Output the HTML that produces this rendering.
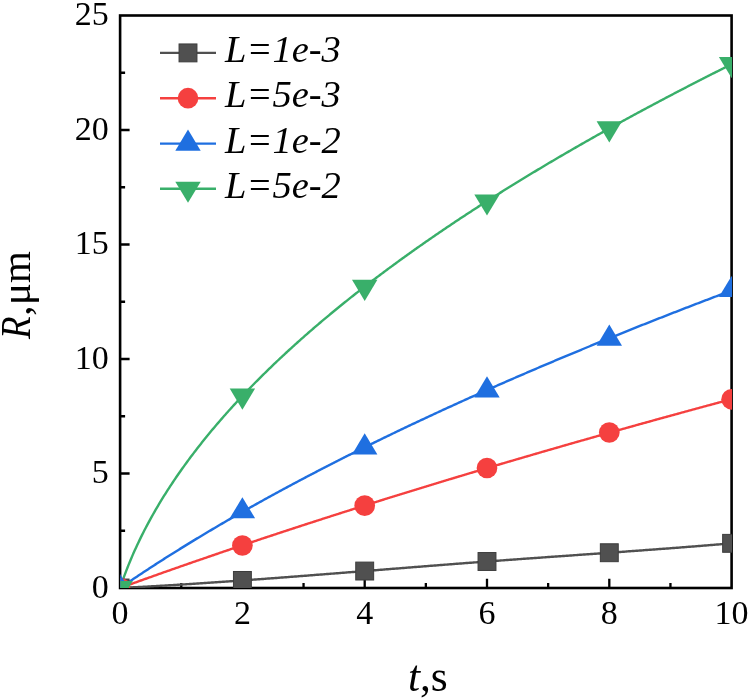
<!DOCTYPE html>
<html><head><meta charset="utf-8"><title>R vs t</title>
<style>
html,body{margin:0;padding:0;background:#fff;}
body{width:750px;height:699px;overflow:hidden;}
svg{display:block;filter:blur(0.45px);}
text{font-family:"Liberation Serif","Times New Roman",serif;fill:#000;}
</style></head><body>
<svg width="750" height="699" viewBox="0 0 750 699">
<defs><clipPath id="pa"><rect x="120.30" y="15.50" width="611.70" height="572.50"/></clipPath></defs>
<rect width="750" height="699" fill="#fff"/>

<rect x="120.10" y="15.50" width="611.50" height="572.50" fill="none" stroke="#000" stroke-width="2.6"/>
<path d="M181.25,588.00V583.00M242.40,588.00V578.70M303.55,588.00V583.00M364.70,588.00V578.70M425.85,588.00V583.00M487.00,588.00V578.70M548.15,588.00V583.00M609.30,588.00V578.70M670.45,588.00V583.00M120.10,530.75H125.10M120.10,473.50H129.60M120.10,416.25H125.10M120.10,359.00H129.60M120.10,301.75H125.10M120.10,244.50H129.60M120.10,187.25H125.10M120.10,130.00H129.60M120.10,72.75H125.10" stroke="#000" stroke-width="2.3" fill="none"/>
<text x="120.10" y="623.6" font-size="34" text-anchor="middle">0</text>
<text x="242.40" y="623.6" font-size="34" text-anchor="middle">2</text>
<text x="364.70" y="623.6" font-size="34" text-anchor="middle">4</text>
<text x="487.00" y="623.6" font-size="34" text-anchor="middle">6</text>
<text x="609.30" y="623.6" font-size="34" text-anchor="middle">8</text>
<text x="731.60" y="623.6" font-size="34" text-anchor="middle">10</text>
<text x="108.7" y="597.80" font-size="34" text-anchor="end">0</text>
<text x="108.7" y="483.30" font-size="34" text-anchor="end">5</text>
<text x="108.7" y="368.80" font-size="34" text-anchor="end">10</text>
<text x="108.7" y="254.30" font-size="34" text-anchor="end">15</text>
<text x="108.7" y="139.80" font-size="34" text-anchor="end">20</text>
<text x="108.7" y="25.30" font-size="34" text-anchor="end">25</text>
<text x="407.9" y="691.0" font-size="43.5"><tspan font-style="italic">t</tspan>,s</text>
<text transform="translate(30.0,339.0) rotate(-90) scale(0.87,1)" font-size="42.5" font-style="italic">R</text>
<text transform="translate(30.2,315.75) rotate(-90)" font-size="41">,<tspan dx="0.6">μm</tspan></text>
<g clip-path="url(#pa)" fill="none" stroke-width="2.4" stroke-linejoin="round">
<path d="M120.10,588.00 L121.32,587.94 L122.55,587.88 L123.77,587.82 L124.99,587.75 L126.21,587.69 L127.44,587.63 L128.66,587.57 L129.88,587.50 L131.11,587.44 L132.33,587.38 L133.55,587.31 L134.78,587.25 L136.00,587.18 L137.22,587.12 L138.44,587.05 L139.67,586.98 L140.89,586.92 L142.11,586.85 L143.34,586.78 L144.56,586.72 L145.78,586.65 L147.01,586.58 L148.23,586.51 L149.45,586.44 L150.67,586.38 L151.90,586.31 L153.12,586.24 L154.34,586.17 L155.57,586.10 L156.79,586.03 L158.01,585.96 L159.24,585.89 L160.46,585.81 L161.68,585.74 L162.90,585.67 L164.13,585.60 L165.35,585.53 L166.57,585.45 L167.80,585.38 L169.02,585.31 L170.24,585.23 L171.47,585.16 L172.69,585.08 L173.91,585.01 L175.13,584.94 L176.36,584.86 L177.58,584.79 L178.80,584.71 L180.03,584.63 L181.25,584.56 L182.47,584.48 L183.70,584.40 L184.92,584.33 L186.14,584.25 L187.37,584.17 L188.59,584.09 L189.81,584.02 L191.03,583.94 L192.26,583.86 L193.48,583.78 L194.70,583.70 L195.93,583.62 L197.15,583.54 L198.37,583.46 L199.59,583.38 L200.82,583.30 L202.04,583.22 L203.26,583.14 L204.49,583.06 L205.71,582.98 L206.93,582.90 L208.16,582.82 L209.38,582.74 L210.60,582.65 L211.82,582.57 L213.05,582.49 L214.27,582.41 L215.49,582.32 L216.72,582.24 L217.94,582.16 L219.16,582.07 L220.39,581.99 L221.61,581.90 L222.83,581.82 L224.06,581.74 L225.28,581.65 L226.50,581.57 L227.72,581.48 L228.95,581.39 L230.17,581.31 L231.39,581.22 L232.62,581.14 L233.84,581.05 L235.06,580.97 L236.29,580.88 L237.51,580.79 L238.73,580.70 L239.95,580.62 L241.18,580.53 L242.40,580.44 L243.62,580.36 L244.85,580.27 L246.07,580.18 L247.29,580.09 L248.52,580.00 L249.74,579.91 L250.96,579.83 L252.18,579.74 L253.41,579.65 L254.63,579.56 L255.85,579.47 L257.08,579.38 L258.30,579.29 L259.52,579.20 L260.75,579.11 L261.97,579.02 L263.19,578.93 L264.41,578.84 L265.64,578.75 L266.86,578.66 L268.08,578.57 L269.31,578.47 L270.53,578.38 L271.75,578.29 L272.98,578.20 L274.20,578.11 L275.42,578.02 L276.64,577.93 L277.87,577.83 L279.09,577.74 L280.31,577.65 L281.54,577.56 L282.76,577.46 L283.98,577.37 L285.21,577.28 L286.43,577.18 L287.65,577.09 L288.87,577.00 L290.10,576.90 L291.32,576.81 L292.54,576.72 L293.77,576.62 L294.99,576.53 L296.21,576.44 L297.43,576.34 L298.66,576.25 L299.88,576.15 L301.10,576.06 L302.33,575.97 L303.55,575.87 L304.77,575.78 L306.00,575.68 L307.22,575.59 L308.44,575.49 L309.66,575.40 L310.89,575.30 L312.11,575.21 L313.33,575.11 L314.56,575.02 L315.78,574.92 L317.00,574.82 L318.23,574.73 L319.45,574.63 L320.67,574.54 L321.89,574.44 L323.12,574.35 L324.34,574.25 L325.56,574.15 L326.79,574.06 L328.01,573.96 L329.23,573.86 L330.46,573.77 L331.68,573.67 L332.90,573.58 L334.12,573.48 L335.35,573.38 L336.57,573.29 L337.79,573.19 L339.02,573.09 L340.24,573.00 L341.46,572.90 L342.69,572.80 L343.91,572.71 L345.13,572.61 L346.36,572.51 L347.58,572.41 L348.80,572.32 L350.02,572.22 L351.25,572.12 L352.47,572.03 L353.69,571.93 L354.92,571.83 L356.14,571.74 L357.36,571.64 L358.58,571.54 L359.81,571.44 L361.03,571.35 L362.25,571.25 L363.48,571.15 L364.70,571.05 L365.92,570.96 L367.15,570.86 L368.37,570.76 L369.59,570.66 L370.81,570.57 L372.04,570.47 L373.26,570.37 L374.48,570.27 L375.71,570.18 L376.93,570.08 L378.15,569.98 L379.38,569.89 L380.60,569.79 L381.82,569.69 L383.05,569.59 L384.27,569.50 L385.49,569.40 L386.71,569.30 L387.94,569.20 L389.16,569.11 L390.38,569.01 L391.61,568.91 L392.83,568.81 L394.05,568.72 L395.27,568.62 L396.50,568.52 L397.72,568.43 L398.94,568.33 L400.17,568.23 L401.39,568.13 L402.61,568.04 L403.84,567.94 L405.06,567.84 L406.28,567.75 L407.50,567.65 L408.73,567.55 L409.95,567.46 L411.17,567.36 L412.40,567.26 L413.62,567.17 L414.84,567.07 L416.07,566.97 L417.29,566.88 L418.51,566.78 L419.74,566.68 L420.96,566.59 L422.18,566.49 L423.40,566.39 L424.63,566.30 L425.85,566.20 L427.07,566.11 L428.30,566.01 L429.52,565.91 L430.74,565.82 L431.96,565.72 L433.19,565.63 L434.41,565.53 L435.63,565.44 L436.86,565.34 L438.08,565.24 L439.30,565.15 L440.53,565.05 L441.75,564.96 L442.97,564.86 L444.20,564.77 L445.42,564.67 L446.64,564.58 L447.86,564.48 L449.09,564.39 L450.31,564.29 L451.53,564.20 L452.76,564.11 L453.98,564.01 L455.20,563.92 L456.42,563.82 L457.65,563.73 L458.87,563.63 L460.09,563.54 L461.32,563.45 L462.54,563.35 L463.76,563.26 L464.99,563.17 L466.21,563.07 L467.43,562.98 L468.65,562.89 L469.88,562.79 L471.10,562.70 L472.32,562.61 L473.55,562.52 L474.77,562.42 L475.99,562.33 L477.22,562.24 L478.44,562.15 L479.66,562.05 L480.88,561.96 L482.11,561.87 L483.33,561.78 L484.55,561.69 L485.78,561.60 L487.00,561.50 L488.22,561.41 L489.45,561.32 L490.67,561.23 L491.89,561.14 L493.12,561.05 L494.34,560.96 L495.56,560.87 L496.78,560.78 L498.01,560.69 L499.23,560.60 L500.45,560.51 L501.68,560.42 L502.90,560.33 L504.12,560.24 L505.35,560.15 L506.57,560.06 L507.79,559.97 L509.01,559.88 L510.24,559.79 L511.46,559.71 L512.68,559.62 L513.91,559.53 L515.13,559.44 L516.35,559.35 L517.58,559.26 L518.80,559.17 L520.02,559.09 L521.24,559.00 L522.47,558.91 L523.69,558.82 L524.91,558.73 L526.14,558.65 L527.36,558.56 L528.58,558.47 L529.80,558.38 L531.03,558.29 L532.25,558.21 L533.47,558.12 L534.70,558.03 L535.92,557.94 L537.14,557.86 L538.37,557.77 L539.59,557.68 L540.81,557.60 L542.04,557.51 L543.26,557.42 L544.48,557.33 L545.70,557.25 L546.93,557.16 L548.15,557.07 L549.37,556.99 L550.60,556.90 L551.82,556.81 L553.04,556.73 L554.26,556.64 L555.49,556.55 L556.71,556.47 L557.93,556.38 L559.16,556.29 L560.38,556.21 L561.60,556.12 L562.83,556.03 L564.05,555.95 L565.27,555.86 L566.50,555.77 L567.72,555.69 L568.94,555.60 L570.16,555.51 L571.39,555.43 L572.61,555.34 L573.83,555.25 L575.06,555.17 L576.28,555.08 L577.50,554.99 L578.73,554.91 L579.95,554.82 L581.17,554.73 L582.39,554.65 L583.62,554.56 L584.84,554.47 L586.06,554.39 L587.29,554.30 L588.51,554.21 L589.73,554.13 L590.95,554.04 L592.18,553.95 L593.40,553.87 L594.62,553.78 L595.85,553.69 L597.07,553.61 L598.29,553.52 L599.52,553.43 L600.74,553.35 L601.96,553.26 L603.19,553.17 L604.41,553.08 L605.63,553.00 L606.85,552.91 L608.08,552.82 L609.30,552.73 L610.52,552.65 L611.75,552.56 L612.97,552.47 L614.19,552.38 L615.41,552.30 L616.64,552.21 L617.86,552.12 L619.08,552.03 L620.31,551.94 L621.53,551.86 L622.75,551.77 L623.98,551.68 L625.20,551.59 L626.42,551.50 L627.65,551.41 L628.87,551.32 L630.09,551.24 L631.31,551.15 L632.54,551.06 L633.76,550.97 L634.98,550.88 L636.21,550.79 L637.43,550.70 L638.65,550.61 L639.88,550.52 L641.10,550.43 L642.32,550.34 L643.54,550.25 L644.77,550.16 L645.99,550.07 L647.21,549.98 L648.44,549.89 L649.66,549.80 L650.88,549.71 L652.10,549.62 L653.33,549.53 L654.55,549.44 L655.77,549.35 L657.00,549.25 L658.22,549.16 L659.44,549.07 L660.67,548.98 L661.89,548.89 L663.11,548.80 L664.34,548.70 L665.56,548.61 L666.78,548.52 L668.00,548.43 L669.23,548.33 L670.45,548.24 L671.67,548.15 L672.90,548.05 L674.12,547.96 L675.34,547.87 L676.56,547.77 L677.79,547.68 L679.01,547.58 L680.23,547.49 L681.46,547.40 L682.68,547.30 L683.90,547.21 L685.13,547.11 L686.35,547.02 L687.57,546.92 L688.79,546.82 L690.02,546.73 L691.24,546.63 L692.46,546.54 L693.69,546.44 L694.91,546.34 L696.13,546.25 L697.36,546.15 L698.58,546.05 L699.80,545.96 L701.02,545.86 L702.25,545.76 L703.47,545.66 L704.69,545.56 L705.92,545.47 L707.14,545.37 L708.36,545.27 L709.59,545.17 L710.81,545.07 L712.03,544.97 L713.25,544.87 L714.48,544.77 L715.70,544.67 L716.92,544.57 L718.15,544.47 L719.37,544.37 L720.59,544.27 L721.82,544.17 L723.04,544.06 L724.26,543.96 L725.49,543.86 L726.71,543.76 L727.93,543.65 L729.15,543.55 L730.38,543.45 L731.60,543.35" stroke="#505050"/>
<path d="M120.10,588.00 L121.32,587.56 L122.55,587.11 L123.77,586.67 L124.99,586.23 L126.21,585.78 L127.44,585.34 L128.66,584.90 L129.88,584.46 L131.11,584.02 L132.33,583.58 L133.55,583.14 L134.78,582.70 L136.00,582.26 L137.22,581.82 L138.44,581.38 L139.67,580.94 L140.89,580.50 L142.11,580.06 L143.34,579.63 L144.56,579.19 L145.78,578.75 L147.01,578.31 L148.23,577.88 L149.45,577.44 L150.67,577.01 L151.90,576.57 L153.12,576.14 L154.34,575.70 L155.57,575.27 L156.79,574.84 L158.01,574.40 L159.24,573.97 L160.46,573.54 L161.68,573.10 L162.90,572.67 L164.13,572.24 L165.35,571.81 L166.57,571.38 L167.80,570.95 L169.02,570.52 L170.24,570.09 L171.47,569.66 L172.69,569.23 L173.91,568.80 L175.13,568.37 L176.36,567.94 L177.58,567.51 L178.80,567.09 L180.03,566.66 L181.25,566.23 L182.47,565.80 L183.70,565.38 L184.92,564.95 L186.14,564.53 L187.37,564.10 L188.59,563.68 L189.81,563.25 L191.03,562.83 L192.26,562.40 L193.48,561.98 L194.70,561.55 L195.93,561.13 L197.15,560.71 L198.37,560.29 L199.59,559.86 L200.82,559.44 L202.04,559.02 L203.26,558.60 L204.49,558.18 L205.71,557.76 L206.93,557.34 L208.16,556.92 L209.38,556.50 L210.60,556.08 L211.82,555.66 L213.05,555.24 L214.27,554.82 L215.49,554.40 L216.72,553.99 L217.94,553.57 L219.16,553.15 L220.39,552.73 L221.61,552.32 L222.83,551.90 L224.06,551.48 L225.28,551.07 L226.50,550.65 L227.72,550.24 L228.95,549.82 L230.17,549.41 L231.39,548.99 L232.62,548.58 L233.84,548.17 L235.06,547.75 L236.29,547.34 L237.51,546.93 L238.73,546.51 L239.95,546.10 L241.18,545.69 L242.40,545.28 L243.62,544.87 L244.85,544.46 L246.07,544.05 L247.29,543.64 L248.52,543.23 L249.74,542.82 L250.96,542.41 L252.18,542.00 L253.41,541.59 L254.63,541.18 L255.85,540.77 L257.08,540.36 L258.30,539.95 L259.52,539.55 L260.75,539.14 L261.97,538.73 L263.19,538.33 L264.41,537.92 L265.64,537.51 L266.86,537.11 L268.08,536.70 L269.31,536.30 L270.53,535.89 L271.75,535.49 L272.98,535.08 L274.20,534.68 L275.42,534.27 L276.64,533.87 L277.87,533.47 L279.09,533.06 L280.31,532.66 L281.54,532.26 L282.76,531.86 L283.98,531.45 L285.21,531.05 L286.43,530.65 L287.65,530.25 L288.87,529.85 L290.10,529.45 L291.32,529.05 L292.54,528.65 L293.77,528.25 L294.99,527.85 L296.21,527.45 L297.43,527.05 L298.66,526.65 L299.88,526.25 L301.10,525.85 L302.33,525.46 L303.55,525.06 L304.77,524.66 L306.00,524.26 L307.22,523.87 L308.44,523.47 L309.66,523.07 L310.89,522.68 L312.11,522.28 L313.33,521.89 L314.56,521.49 L315.78,521.09 L317.00,520.70 L318.23,520.31 L319.45,519.91 L320.67,519.52 L321.89,519.12 L323.12,518.73 L324.34,518.34 L325.56,517.94 L326.79,517.55 L328.01,517.16 L329.23,516.77 L330.46,516.37 L331.68,515.98 L332.90,515.59 L334.12,515.20 L335.35,514.81 L336.57,514.42 L337.79,514.03 L339.02,513.64 L340.24,513.25 L341.46,512.86 L342.69,512.47 L343.91,512.08 L345.13,511.69 L346.36,511.30 L347.58,510.91 L348.80,510.52 L350.02,510.13 L351.25,509.75 L352.47,509.36 L353.69,508.97 L354.92,508.58 L356.14,508.20 L357.36,507.81 L358.58,507.42 L359.81,507.04 L361.03,506.65 L362.25,506.27 L363.48,505.88 L364.70,505.50 L365.92,505.11 L367.15,504.73 L368.37,504.34 L369.59,503.96 L370.81,503.57 L372.04,503.19 L373.26,502.81 L374.48,502.42 L375.71,502.04 L376.93,501.66 L378.15,501.27 L379.38,500.89 L380.60,500.51 L381.82,500.13 L383.05,499.75 L384.27,499.37 L385.49,498.98 L386.71,498.60 L387.94,498.22 L389.16,497.84 L390.38,497.46 L391.61,497.08 L392.83,496.70 L394.05,496.32 L395.27,495.94 L396.50,495.56 L397.72,495.19 L398.94,494.81 L400.17,494.43 L401.39,494.05 L402.61,493.67 L403.84,493.29 L405.06,492.92 L406.28,492.54 L407.50,492.16 L408.73,491.79 L409.95,491.41 L411.17,491.03 L412.40,490.66 L413.62,490.28 L414.84,489.90 L416.07,489.53 L417.29,489.15 L418.51,488.78 L419.74,488.40 L420.96,488.03 L422.18,487.65 L423.40,487.28 L424.63,486.91 L425.85,486.53 L427.07,486.16 L428.30,485.79 L429.52,485.41 L430.74,485.04 L431.96,484.67 L433.19,484.30 L434.41,483.92 L435.63,483.55 L436.86,483.18 L438.08,482.81 L439.30,482.44 L440.53,482.07 L441.75,481.69 L442.97,481.32 L444.20,480.95 L445.42,480.58 L446.64,480.21 L447.86,479.84 L449.09,479.47 L450.31,479.10 L451.53,478.73 L452.76,478.37 L453.98,478.00 L455.20,477.63 L456.42,477.26 L457.65,476.89 L458.87,476.52 L460.09,476.16 L461.32,475.79 L462.54,475.42 L463.76,475.05 L464.99,474.69 L466.21,474.32 L467.43,473.95 L468.65,473.59 L469.88,473.22 L471.10,472.86 L472.32,472.49 L473.55,472.12 L474.77,471.76 L475.99,471.39 L477.22,471.03 L478.44,470.66 L479.66,470.30 L480.88,469.94 L482.11,469.57 L483.33,469.21 L484.55,468.84 L485.78,468.48 L487.00,468.12 L488.22,467.75 L489.45,467.39 L490.67,467.03 L491.89,466.67 L493.12,466.30 L494.34,465.94 L495.56,465.58 L496.78,465.22 L498.01,464.86 L499.23,464.50 L500.45,464.13 L501.68,463.77 L502.90,463.41 L504.12,463.05 L505.35,462.69 L506.57,462.33 L507.79,461.97 L509.01,461.61 L510.24,461.25 L511.46,460.89 L512.68,460.53 L513.91,460.18 L515.13,459.82 L516.35,459.46 L517.58,459.10 L518.80,458.74 L520.02,458.38 L521.24,458.03 L522.47,457.67 L523.69,457.31 L524.91,456.95 L526.14,456.60 L527.36,456.24 L528.58,455.88 L529.80,455.53 L531.03,455.17 L532.25,454.81 L533.47,454.46 L534.70,454.10 L535.92,453.75 L537.14,453.39 L538.37,453.04 L539.59,452.68 L540.81,452.33 L542.04,451.97 L543.26,451.62 L544.48,451.26 L545.70,450.91 L546.93,450.56 L548.15,450.20 L549.37,449.85 L550.60,449.50 L551.82,449.14 L553.04,448.79 L554.26,448.44 L555.49,448.09 L556.71,447.73 L557.93,447.38 L559.16,447.03 L560.38,446.68 L561.60,446.33 L562.83,445.97 L564.05,445.62 L565.27,445.27 L566.50,444.92 L567.72,444.57 L568.94,444.22 L570.16,443.87 L571.39,443.52 L572.61,443.17 L573.83,442.82 L575.06,442.47 L576.28,442.12 L577.50,441.77 L578.73,441.42 L579.95,441.07 L581.17,440.72 L582.39,440.38 L583.62,440.03 L584.84,439.68 L586.06,439.33 L587.29,438.98 L588.51,438.64 L589.73,438.29 L590.95,437.94 L592.18,437.59 L593.40,437.25 L594.62,436.90 L595.85,436.55 L597.07,436.21 L598.29,435.86 L599.52,435.52 L600.74,435.17 L601.96,434.82 L603.19,434.48 L604.41,434.13 L605.63,433.79 L606.85,433.44 L608.08,433.10 L609.30,432.75 L610.52,432.41 L611.75,432.06 L612.97,431.72 L614.19,431.38 L615.41,431.03 L616.64,430.69 L617.86,430.34 L619.08,430.00 L620.31,429.66 L621.53,429.32 L622.75,428.97 L623.98,428.63 L625.20,428.29 L626.42,427.95 L627.65,427.60 L628.87,427.26 L630.09,426.92 L631.31,426.58 L632.54,426.24 L633.76,425.89 L634.98,425.55 L636.21,425.21 L637.43,424.87 L638.65,424.53 L639.88,424.19 L641.10,423.85 L642.32,423.51 L643.54,423.17 L644.77,422.83 L645.99,422.49 L647.21,422.15 L648.44,421.81 L649.66,421.47 L650.88,421.13 L652.10,420.79 L653.33,420.46 L654.55,420.12 L655.77,419.78 L657.00,419.44 L658.22,419.10 L659.44,418.77 L660.67,418.43 L661.89,418.09 L663.11,417.75 L664.34,417.42 L665.56,417.08 L666.78,416.74 L668.00,416.40 L669.23,416.07 L670.45,415.73 L671.67,415.40 L672.90,415.06 L674.12,414.72 L675.34,414.39 L676.56,414.05 L677.79,413.72 L679.01,413.38 L680.23,413.05 L681.46,412.71 L682.68,412.38 L683.90,412.04 L685.13,411.71 L686.35,411.37 L687.57,411.04 L688.79,410.70 L690.02,410.37 L691.24,410.04 L692.46,409.70 L693.69,409.37 L694.91,409.04 L696.13,408.70 L697.36,408.37 L698.58,408.04 L699.80,407.70 L701.02,407.37 L702.25,407.04 L703.47,406.71 L704.69,406.38 L705.92,406.04 L707.14,405.71 L708.36,405.38 L709.59,405.05 L710.81,404.72 L712.03,404.39 L713.25,404.06 L714.48,403.72 L715.70,403.39 L716.92,403.06 L718.15,402.73 L719.37,402.40 L720.59,402.07 L721.82,401.74 L723.04,401.41 L724.26,401.08 L725.49,400.75 L726.71,400.43 L727.93,400.10 L729.15,399.77 L730.38,399.44 L731.60,399.11" stroke="#f5403f"/>
<path d="M120.10,588.00 L121.32,587.16 L122.55,586.32 L123.77,585.48 L124.99,584.65 L126.21,583.82 L127.44,582.98 L128.66,582.16 L129.88,581.33 L131.11,580.50 L132.33,579.68 L133.55,578.86 L134.78,578.04 L136.00,577.22 L137.22,576.40 L138.44,575.59 L139.67,574.78 L140.89,573.97 L142.11,573.16 L143.34,572.35 L144.56,571.54 L145.78,570.74 L147.01,569.94 L148.23,569.14 L149.45,568.34 L150.67,567.54 L151.90,566.74 L153.12,565.95 L154.34,565.16 L155.57,564.37 L156.79,563.58 L158.01,562.79 L159.24,562.01 L160.46,561.22 L161.68,560.44 L162.90,559.66 L164.13,558.88 L165.35,558.10 L166.57,557.33 L167.80,556.55 L169.02,555.78 L170.24,555.01 L171.47,554.24 L172.69,553.47 L173.91,552.70 L175.13,551.94 L176.36,551.17 L177.58,550.41 L178.80,549.65 L180.03,548.89 L181.25,548.13 L182.47,547.37 L183.70,546.62 L184.92,545.86 L186.14,545.11 L187.37,544.36 L188.59,543.61 L189.81,542.86 L191.03,542.11 L192.26,541.37 L193.48,540.62 L194.70,539.88 L195.93,539.14 L197.15,538.40 L198.37,537.66 L199.59,536.92 L200.82,536.19 L202.04,535.45 L203.26,534.72 L204.49,533.99 L205.71,533.26 L206.93,532.53 L208.16,531.80 L209.38,531.07 L210.60,530.35 L211.82,529.62 L213.05,528.90 L214.27,528.18 L215.49,527.45 L216.72,526.73 L217.94,526.02 L219.16,525.30 L220.39,524.58 L221.61,523.87 L222.83,523.16 L224.06,522.44 L225.28,521.73 L226.50,521.02 L227.72,520.31 L228.95,519.61 L230.17,518.90 L231.39,518.19 L232.62,517.49 L233.84,516.79 L235.06,516.09 L236.29,515.38 L237.51,514.69 L238.73,513.99 L239.95,513.29 L241.18,512.59 L242.40,511.90 L243.62,511.21 L244.85,510.51 L246.07,509.82 L247.29,509.13 L248.52,508.44 L249.74,507.75 L250.96,507.06 L252.18,506.38 L253.41,505.69 L254.63,505.01 L255.85,504.33 L257.08,503.64 L258.30,502.96 L259.52,502.28 L260.75,501.60 L261.97,500.93 L263.19,500.25 L264.41,499.57 L265.64,498.90 L266.86,498.23 L268.08,497.55 L269.31,496.88 L270.53,496.21 L271.75,495.54 L272.98,494.87 L274.20,494.20 L275.42,493.54 L276.64,492.87 L277.87,492.21 L279.09,491.54 L280.31,490.88 L281.54,490.22 L282.76,489.56 L283.98,488.90 L285.21,488.24 L286.43,487.58 L287.65,486.92 L288.87,486.27 L290.10,485.61 L291.32,484.96 L292.54,484.30 L293.77,483.65 L294.99,483.00 L296.21,482.35 L297.43,481.70 L298.66,481.05 L299.88,480.40 L301.10,479.75 L302.33,479.11 L303.55,478.46 L304.77,477.82 L306.00,477.18 L307.22,476.53 L308.44,475.89 L309.66,475.25 L310.89,474.61 L312.11,473.97 L313.33,473.33 L314.56,472.69 L315.78,472.06 L317.00,471.42 L318.23,470.79 L319.45,470.15 L320.67,469.52 L321.89,468.89 L323.12,468.26 L324.34,467.63 L325.56,467.00 L326.79,466.37 L328.01,465.74 L329.23,465.11 L330.46,464.48 L331.68,463.86 L332.90,463.23 L334.12,462.61 L335.35,461.99 L336.57,461.36 L337.79,460.74 L339.02,460.12 L340.24,459.50 L341.46,458.88 L342.69,458.26 L343.91,457.65 L345.13,457.03 L346.36,456.41 L347.58,455.80 L348.80,455.18 L350.02,454.57 L351.25,453.96 L352.47,453.34 L353.69,452.73 L354.92,452.12 L356.14,451.51 L357.36,450.90 L358.58,450.29 L359.81,449.68 L361.03,449.08 L362.25,448.47 L363.48,447.87 L364.70,447.26 L365.92,446.66 L367.15,446.05 L368.37,445.45 L369.59,444.85 L370.81,444.25 L372.04,443.65 L373.26,443.05 L374.48,442.45 L375.71,441.85 L376.93,441.25 L378.15,440.65 L379.38,440.06 L380.60,439.46 L381.82,438.87 L383.05,438.27 L384.27,437.68 L385.49,437.09 L386.71,436.49 L387.94,435.90 L389.16,435.31 L390.38,434.72 L391.61,434.13 L392.83,433.54 L394.05,432.96 L395.27,432.37 L396.50,431.78 L397.72,431.20 L398.94,430.61 L400.17,430.02 L401.39,429.44 L402.61,428.86 L403.84,428.27 L405.06,427.69 L406.28,427.11 L407.50,426.53 L408.73,425.95 L409.95,425.37 L411.17,424.79 L412.40,424.21 L413.62,423.64 L414.84,423.06 L416.07,422.48 L417.29,421.91 L418.51,421.33 L419.74,420.76 L420.96,420.18 L422.18,419.61 L423.40,419.04 L424.63,418.47 L425.85,417.89 L427.07,417.32 L428.30,416.75 L429.52,416.18 L430.74,415.62 L431.96,415.05 L433.19,414.48 L434.41,413.91 L435.63,413.35 L436.86,412.78 L438.08,412.22 L439.30,411.65 L440.53,411.09 L441.75,410.52 L442.97,409.96 L444.20,409.40 L445.42,408.84 L446.64,408.28 L447.86,407.71 L449.09,407.15 L450.31,406.60 L451.53,406.04 L452.76,405.48 L453.98,404.92 L455.20,404.36 L456.42,403.81 L457.65,403.25 L458.87,402.70 L460.09,402.14 L461.32,401.59 L462.54,401.03 L463.76,400.48 L464.99,399.93 L466.21,399.38 L467.43,398.82 L468.65,398.27 L469.88,397.72 L471.10,397.17 L472.32,396.62 L473.55,396.08 L474.77,395.53 L475.99,394.98 L477.22,394.43 L478.44,393.89 L479.66,393.34 L480.88,392.80 L482.11,392.25 L483.33,391.71 L484.55,391.16 L485.78,390.62 L487.00,390.08 L488.22,389.53 L489.45,388.99 L490.67,388.45 L491.89,387.91 L493.12,387.37 L494.34,386.83 L495.56,386.29 L496.78,385.75 L498.01,385.22 L499.23,384.68 L500.45,384.14 L501.68,383.60 L502.90,383.07 L504.12,382.53 L505.35,382.00 L506.57,381.46 L507.79,380.93 L509.01,380.40 L510.24,379.86 L511.46,379.33 L512.68,378.80 L513.91,378.27 L515.13,377.74 L516.35,377.21 L517.58,376.68 L518.80,376.15 L520.02,375.62 L521.24,375.09 L522.47,374.56 L523.69,374.03 L524.91,373.51 L526.14,372.98 L527.36,372.45 L528.58,371.93 L529.80,371.40 L531.03,370.88 L532.25,370.35 L533.47,369.83 L534.70,369.31 L535.92,368.78 L537.14,368.26 L538.37,367.74 L539.59,367.22 L540.81,366.70 L542.04,366.18 L543.26,365.66 L544.48,365.14 L545.70,364.62 L546.93,364.10 L548.15,363.58 L549.37,363.07 L550.60,362.55 L551.82,362.03 L553.04,361.52 L554.26,361.00 L555.49,360.48 L556.71,359.97 L557.93,359.46 L559.16,358.94 L560.38,358.43 L561.60,357.92 L562.83,357.40 L564.05,356.89 L565.27,356.38 L566.50,355.87 L567.72,355.36 L568.94,354.85 L570.16,354.34 L571.39,353.83 L572.61,353.32 L573.83,352.81 L575.06,352.30 L576.28,351.79 L577.50,351.29 L578.73,350.78 L579.95,350.27 L581.17,349.77 L582.39,349.26 L583.62,348.76 L584.84,348.25 L586.06,347.75 L587.29,347.24 L588.51,346.74 L589.73,346.24 L590.95,345.73 L592.18,345.23 L593.40,344.73 L594.62,344.23 L595.85,343.73 L597.07,343.23 L598.29,342.73 L599.52,342.23 L600.74,341.73 L601.96,341.23 L603.19,340.73 L604.41,340.23 L605.63,339.73 L606.85,339.24 L608.08,338.74 L609.30,338.24 L610.52,337.75 L611.75,337.25 L612.97,336.76 L614.19,336.26 L615.41,335.77 L616.64,335.27 L617.86,334.78 L619.08,334.29 L620.31,333.79 L621.53,333.30 L622.75,332.81 L623.98,332.32 L625.20,331.83 L626.42,331.33 L627.65,330.84 L628.87,330.35 L630.09,329.86 L631.31,329.37 L632.54,328.89 L633.76,328.40 L634.98,327.91 L636.21,327.42 L637.43,326.93 L638.65,326.45 L639.88,325.96 L641.10,325.47 L642.32,324.99 L643.54,324.50 L644.77,324.02 L645.99,323.53 L647.21,323.05 L648.44,322.56 L649.66,322.08 L650.88,321.60 L652.10,321.11 L653.33,320.63 L654.55,320.15 L655.77,319.67 L657.00,319.19 L658.22,318.71 L659.44,318.23 L660.67,317.75 L661.89,317.27 L663.11,316.79 L664.34,316.31 L665.56,315.83 L666.78,315.35 L668.00,314.87 L669.23,314.39 L670.45,313.92 L671.67,313.44 L672.90,312.96 L674.12,312.49 L675.34,312.01 L676.56,311.53 L677.79,311.06 L679.01,310.58 L680.23,310.11 L681.46,309.64 L682.68,309.16 L683.90,308.69 L685.13,308.22 L686.35,307.74 L687.57,307.27 L688.79,306.80 L690.02,306.33 L691.24,305.86 L692.46,305.38 L693.69,304.91 L694.91,304.44 L696.13,303.97 L697.36,303.50 L698.58,303.03 L699.80,302.57 L701.02,302.10 L702.25,301.63 L703.47,301.16 L704.69,300.69 L705.92,300.23 L707.14,299.76 L708.36,299.29 L709.59,298.83 L710.81,298.36 L712.03,297.89 L713.25,297.43 L714.48,296.96 L715.70,296.50 L716.92,296.04 L718.15,295.57 L719.37,295.11 L720.59,294.64 L721.82,294.18 L723.04,293.72 L724.26,293.26 L725.49,292.80 L726.71,292.33 L727.93,291.87 L729.15,291.41 L730.38,290.95 L731.60,290.49" stroke="#1f6fe0"/>
<path d="M120.10,588.00 L121.32,584.35 L122.55,580.83 L123.77,577.41 L124.99,574.10 L126.21,570.87 L127.44,567.73 L128.66,564.67 L129.88,561.68 L131.11,558.75 L132.33,555.89 L133.55,553.09 L134.78,550.35 L136.00,547.66 L137.22,545.02 L138.44,542.42 L139.67,539.87 L140.89,537.36 L142.11,534.89 L143.34,532.46 L144.56,530.07 L145.78,527.71 L147.01,525.39 L148.23,523.10 L149.45,520.84 L150.67,518.60 L151.90,516.40 L153.12,514.23 L154.34,512.08 L155.57,509.95 L156.79,507.85 L158.01,505.78 L159.24,503.73 L160.46,501.70 L161.68,499.69 L162.90,497.70 L164.13,495.73 L165.35,493.78 L166.57,491.86 L167.80,489.94 L169.02,488.05 L170.24,486.18 L171.47,484.32 L172.69,482.48 L173.91,480.65 L175.13,478.84 L176.36,477.05 L177.58,475.27 L178.80,473.51 L180.03,471.76 L181.25,470.02 L182.47,468.30 L183.70,466.59 L184.92,464.89 L186.14,463.21 L187.37,461.53 L188.59,459.87 L189.81,458.23 L191.03,456.59 L192.26,454.96 L193.48,453.35 L194.70,451.75 L195.93,450.15 L197.15,448.57 L198.37,447.00 L199.59,445.44 L200.82,443.89 L202.04,442.35 L203.26,440.81 L204.49,439.29 L205.71,437.78 L206.93,436.27 L208.16,434.77 L209.38,433.29 L210.60,431.81 L211.82,430.34 L213.05,428.88 L214.27,427.42 L215.49,425.97 L216.72,424.54 L217.94,423.11 L219.16,421.68 L220.39,420.27 L221.61,418.86 L222.83,417.46 L224.06,416.06 L225.28,414.68 L226.50,413.30 L227.72,411.92 L228.95,410.56 L230.17,409.20 L231.39,407.84 L232.62,406.50 L233.84,405.16 L235.06,403.82 L236.29,402.50 L237.51,401.17 L238.73,399.86 L239.95,398.55 L241.18,397.24 L242.40,395.94 L243.62,394.65 L244.85,393.36 L246.07,392.08 L247.29,390.81 L248.52,389.54 L249.74,388.27 L250.96,387.01 L252.18,385.76 L253.41,384.51 L254.63,383.26 L255.85,382.02 L257.08,380.79 L258.30,379.56 L259.52,378.33 L260.75,377.11 L261.97,375.90 L263.19,374.69 L264.41,373.48 L265.64,372.28 L266.86,371.08 L268.08,369.89 L269.31,368.70 L270.53,367.52 L271.75,366.34 L272.98,365.16 L274.20,363.99 L275.42,362.82 L276.64,361.66 L277.87,360.50 L279.09,359.35 L280.31,358.20 L281.54,357.05 L282.76,355.91 L283.98,354.77 L285.21,353.63 L286.43,352.50 L287.65,351.38 L288.87,350.25 L290.10,349.13 L291.32,348.02 L292.54,346.90 L293.77,345.79 L294.99,344.69 L296.21,343.59 L297.43,342.49 L298.66,341.39 L299.88,340.30 L301.10,339.21 L302.33,338.13 L303.55,337.05 L304.77,335.97 L306.00,334.89 L307.22,333.82 L308.44,332.75 L309.66,331.69 L310.89,330.62 L312.11,329.57 L313.33,328.51 L314.56,327.46 L315.78,326.41 L317.00,325.36 L318.23,324.32 L319.45,323.27 L320.67,322.24 L321.89,321.20 L323.12,320.17 L324.34,319.14 L325.56,318.11 L326.79,317.09 L328.01,316.07 L329.23,315.05 L330.46,314.04 L331.68,313.02 L332.90,312.01 L334.12,311.01 L335.35,310.00 L336.57,309.00 L337.79,308.00 L339.02,307.00 L340.24,306.01 L341.46,305.02 L342.69,304.03 L343.91,303.04 L345.13,302.06 L346.36,301.08 L347.58,300.10 L348.80,299.12 L350.02,298.15 L351.25,297.17 L352.47,296.20 L353.69,295.24 L354.92,294.27 L356.14,293.31 L357.36,292.35 L358.58,291.39 L359.81,290.44 L361.03,289.48 L362.25,288.53 L363.48,287.58 L364.70,286.64 L365.92,285.69 L367.15,284.75 L368.37,283.81 L369.59,282.87 L370.81,281.94 L372.04,281.00 L373.26,280.07 L374.48,279.14 L375.71,278.22 L376.93,277.29 L378.15,276.37 L379.38,275.45 L380.60,274.53 L381.82,273.61 L383.05,272.70 L384.27,271.78 L385.49,270.87 L386.71,269.97 L387.94,269.06 L389.16,268.15 L390.38,267.25 L391.61,266.35 L392.83,265.45 L394.05,264.55 L395.27,263.66 L396.50,262.76 L397.72,261.87 L398.94,260.98 L400.17,260.09 L401.39,259.21 L402.61,258.32 L403.84,257.44 L405.06,256.56 L406.28,255.68 L407.50,254.80 L408.73,253.93 L409.95,253.05 L411.17,252.18 L412.40,251.31 L413.62,250.44 L414.84,249.58 L416.07,248.71 L417.29,247.85 L418.51,246.99 L419.74,246.13 L420.96,245.27 L422.18,244.41 L423.40,243.56 L424.63,242.70 L425.85,241.85 L427.07,241.00 L428.30,240.15 L429.52,239.30 L430.74,238.46 L431.96,237.62 L433.19,236.77 L434.41,235.93 L435.63,235.09 L436.86,234.26 L438.08,233.42 L439.30,232.58 L440.53,231.75 L441.75,230.92 L442.97,230.09 L444.20,229.26 L445.42,228.43 L446.64,227.61 L447.86,226.78 L449.09,225.96 L450.31,225.14 L451.53,224.32 L452.76,223.50 L453.98,222.68 L455.20,221.87 L456.42,221.06 L457.65,220.24 L458.87,219.43 L460.09,218.62 L461.32,217.81 L462.54,217.01 L463.76,216.20 L464.99,215.40 L466.21,214.59 L467.43,213.79 L468.65,212.99 L469.88,212.19 L471.10,211.39 L472.32,210.60 L473.55,209.80 L474.77,209.01 L475.99,208.22 L477.22,207.42 L478.44,206.63 L479.66,205.85 L480.88,205.06 L482.11,204.27 L483.33,203.49 L484.55,202.70 L485.78,201.92 L487.00,201.14 L488.22,200.36 L489.45,199.58 L490.67,198.81 L491.89,198.03 L493.12,197.26 L494.34,196.48 L495.56,195.71 L496.78,194.94 L498.01,194.17 L499.23,193.40 L500.45,192.63 L501.68,191.87 L502.90,191.10 L504.12,190.34 L505.35,189.57 L506.57,188.81 L507.79,188.05 L509.01,187.29 L510.24,186.53 L511.46,185.78 L512.68,185.02 L513.91,184.26 L515.13,183.51 L516.35,182.76 L517.58,182.01 L518.80,181.26 L520.02,180.51 L521.24,179.76 L522.47,179.01 L523.69,178.27 L524.91,177.52 L526.14,176.78 L527.36,176.03 L528.58,175.29 L529.80,174.55 L531.03,173.81 L532.25,173.07 L533.47,172.34 L534.70,171.60 L535.92,170.86 L537.14,170.13 L538.37,169.40 L539.59,168.66 L540.81,167.93 L542.04,167.20 L543.26,166.47 L544.48,165.74 L545.70,165.02 L546.93,164.29 L548.15,163.57 L549.37,162.84 L550.60,162.12 L551.82,161.40 L553.04,160.67 L554.26,159.95 L555.49,159.23 L556.71,158.52 L557.93,157.80 L559.16,157.08 L560.38,156.37 L561.60,155.65 L562.83,154.94 L564.05,154.23 L565.27,153.51 L566.50,152.80 L567.72,152.09 L568.94,151.38 L570.16,150.68 L571.39,149.97 L572.61,149.26 L573.83,148.56 L575.06,147.85 L576.28,147.15 L577.50,146.45 L578.73,145.75 L579.95,145.05 L581.17,144.35 L582.39,143.65 L583.62,142.95 L584.84,142.25 L586.06,141.56 L587.29,140.86 L588.51,140.17 L589.73,139.47 L590.95,138.78 L592.18,138.09 L593.40,137.40 L594.62,136.71 L595.85,136.02 L597.07,135.33 L598.29,134.64 L599.52,133.96 L600.74,133.27 L601.96,132.59 L603.19,131.90 L604.41,131.22 L605.63,130.54 L606.85,129.85 L608.08,129.17 L609.30,128.49 L610.52,127.81 L611.75,127.14 L612.97,126.46 L614.19,125.78 L615.41,125.11 L616.64,124.43 L617.86,123.76 L619.08,123.08 L620.31,122.41 L621.53,121.74 L622.75,121.07 L623.98,120.40 L625.20,119.73 L626.42,119.06 L627.65,118.39 L628.87,117.72 L630.09,117.06 L631.31,116.39 L632.54,115.73 L633.76,115.06 L634.98,114.40 L636.21,113.74 L637.43,113.07 L638.65,112.41 L639.88,111.75 L641.10,111.09 L642.32,110.43 L643.54,109.78 L644.77,109.12 L645.99,108.46 L647.21,107.81 L648.44,107.15 L649.66,106.50 L650.88,105.84 L652.10,105.19 L653.33,104.54 L654.55,103.89 L655.77,103.24 L657.00,102.59 L658.22,101.94 L659.44,101.29 L660.67,100.64 L661.89,99.99 L663.11,99.35 L664.34,98.70 L665.56,98.06 L666.78,97.41 L668.00,96.77 L669.23,96.13 L670.45,95.48 L671.67,94.84 L672.90,94.20 L674.12,93.56 L675.34,92.92 L676.56,92.28 L677.79,91.64 L679.01,91.01 L680.23,90.37 L681.46,89.73 L682.68,89.10 L683.90,88.46 L685.13,87.83 L686.35,87.20 L687.57,86.56 L688.79,85.93 L690.02,85.30 L691.24,84.67 L692.46,84.04 L693.69,83.41 L694.91,82.78 L696.13,82.15 L697.36,81.52 L698.58,80.90 L699.80,80.27 L701.02,79.65 L702.25,79.02 L703.47,78.40 L704.69,77.77 L705.92,77.15 L707.14,76.53 L708.36,75.91 L709.59,75.28 L710.81,74.66 L712.03,74.04 L713.25,73.42 L714.48,72.81 L715.70,72.19 L716.92,71.57 L718.15,70.95 L719.37,70.34 L720.59,69.72 L721.82,69.11 L723.04,68.49 L724.26,67.88 L725.49,67.27 L726.71,66.65 L727.93,66.04 L729.15,65.43 L730.38,64.82 L731.60,64.21" stroke="#39af6a"/>
</g>
<g clip-path="url(#pa)">
<rect x="111.15" y="579.05" width="17.90" height="17.90" fill="#505050" stroke="#3c3c3c" stroke-width="1"/>
<rect x="233.45" y="571.49" width="17.90" height="17.90" fill="#505050" stroke="#3c3c3c" stroke-width="1"/>
<rect x="355.75" y="562.10" width="17.90" height="17.90" fill="#505050" stroke="#3c3c3c" stroke-width="1"/>
<rect x="478.05" y="552.55" width="17.90" height="17.90" fill="#505050" stroke="#3c3c3c" stroke-width="1"/>
<rect x="600.35" y="543.78" width="17.90" height="17.90" fill="#505050" stroke="#3c3c3c" stroke-width="1"/>
<rect x="722.65" y="534.39" width="17.90" height="17.90" fill="#505050" stroke="#3c3c3c" stroke-width="1"/>
<circle cx="120.10" cy="588.00" r="10.35" fill="#f5403f"/>
<circle cx="242.40" cy="545.50" r="10.35" fill="#f5403f"/>
<circle cx="364.70" cy="505.56" r="10.35" fill="#f5403f"/>
<circle cx="487.00" cy="468.00" r="10.35" fill="#f5403f"/>
<circle cx="609.30" cy="432.51" r="10.35" fill="#f5403f"/>
<circle cx="731.60" cy="399.30" r="10.35" fill="#f5403f"/>
<polygon points="120.10,573.93 132.80,595.03 107.40,595.03" fill="#1f6fe0"/>
<polygon points="242.40,497.22 255.10,518.32 229.70,518.32" fill="#1f6fe0"/>
<polygon points="364.70,433.33 377.40,454.43 352.00,454.43" fill="#1f6fe0"/>
<polygon points="487.00,376.31 499.70,397.41 474.30,397.41" fill="#1f6fe0"/>
<polygon points="609.30,324.55 622.00,345.65 596.60,345.65" fill="#1f6fe0"/>
<polygon points="731.60,276.00 744.30,297.10 718.90,297.10" fill="#1f6fe0"/>
<polygon points="107.40,580.97 132.80,580.97 120.10,602.07" fill="#39af6a"/>
<polygon points="229.70,388.61 255.10,388.61 242.40,409.71" fill="#39af6a"/>
<polygon points="352.00,279.83 377.40,279.83 364.70,300.93" fill="#39af6a"/>
<polygon points="474.30,194.41 499.70,194.41 487.00,215.51" fill="#39af6a"/>
<polygon points="596.60,121.36 622.00,121.36 609.30,142.46" fill="#39af6a"/>
<polygon points="718.90,57.01 744.30,57.01 731.60,78.11" fill="#39af6a"/>
</g>
<line x1="160" y1="52.9" x2="216" y2="52.9" stroke="#505050" stroke-width="2.4"/>
<rect x="179.05" y="43.95" width="17.90" height="17.90" fill="#505050" stroke="#3c3c3c" stroke-width="1"/>
<text x="225" y="62.10" font-size="38.5" font-style="italic">L=1e-3</text>
<line x1="160" y1="98.2" x2="216" y2="98.2" stroke="#f5403f" stroke-width="2.4"/>
<circle cx="188.00" cy="98.20" r="10.35" fill="#f5403f"/>
<text x="225" y="107.40" font-size="38.5" font-style="italic">L=5e-3</text>
<line x1="160" y1="143.6" x2="216" y2="143.6" stroke="#1f6fe0" stroke-width="2.4"/>
<polygon points="188.00,129.53 200.70,150.63 175.30,150.63" fill="#1f6fe0"/>
<text x="225" y="152.80" font-size="38.5" font-style="italic">L=1e-2</text>
<line x1="160" y1="188.8" x2="216" y2="188.8" stroke="#39af6a" stroke-width="2.4"/>
<polygon points="175.30,181.77 200.70,181.77 188.00,202.87" fill="#39af6a"/>
<text x="225" y="198.00" font-size="38.5" font-style="italic">L=5e-2</text>
</svg>
</body></html>
